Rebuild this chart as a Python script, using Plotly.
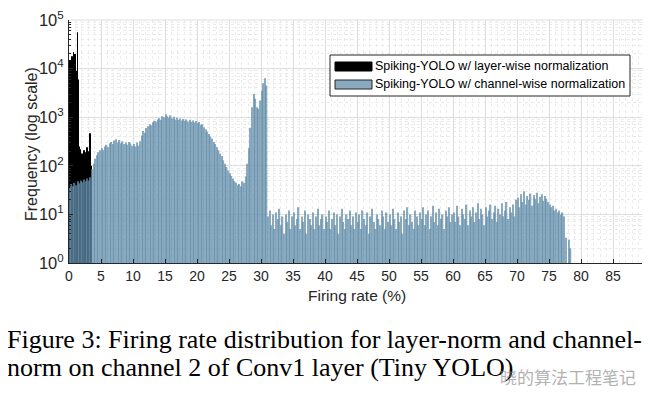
import plotly.graph_objects as go

# ---------------- data ----------------
# channel-wise normalization histogram, bin width 0.25 (% firing rate), bins start at 0
BLUE_BIN = 0.25
blue_counts = [
    # 0 - 5
    35, 42, 38, 45, 40, 48, 44, 50, 46, 52, 48, 55, 50, 58, 85, 110, 140, 165, 190, 210,
    # 5 - 10
    230, 210, 250, 270, 240, 290, 310, 280, 330, 350, 300, 340, 290, 320, 280, 300, 270, 310, 290, 260,
    # 10 - 15
    280, 250, 300, 260, 320, 420, 520, 480, 600, 650, 720, 680, 780, 850, 820, 900, 950, 880, 1050, 1000,
    # 15 - 20
    1150, 1050, 980, 1100, 950, 1020, 900, 970, 880, 940, 860, 920, 850, 900, 820, 880, 800, 860, 780, 840,
    # 20 - 25
    760, 800, 700, 720, 620, 560, 500, 450, 400, 360, 310, 280, 240, 210, 180, 160, 130, 110, 95, 80,
    # 25 - 30
    70, 62, 55, 48, 45, 40, 42, 38, 48, 45, 60, 110, 230, 600, 1600, 3000, 2400, 1600, 1500, 2200,
    # 30 - 35
    3500, 5000, 6300, 4500, 9, 12, 6, 10, 5, 11, 8, 13, 6, 9, 4, 10, 7, 12, 5, 9,
    # 35 - 40
    11, 6, 8, 14, 5, 9, 7, 12, 4, 10, 8, 6, 11, 5, 9, 13, 6, 8, 10, 5,
    # 40 - 45
    9, 7, 12, 5, 8, 11, 6, 10, 4, 9, 13, 7, 5, 10, 8, 12, 6, 9, 5, 11,
    # 45 - 50
    7, 10, 5, 12, 8, 6, 11, 4, 9, 13, 7, 5, 10, 8, 6, 12, 9, 5, 11, 7,
    # 50 - 55
    10, 6, 13, 8, 5, 11, 7, 9, 4, 12, 8, 14, 6, 10, 7, 5, 12, 9, 6, 11,
    # 55 - 60
    8, 14, 6, 10, 12, 5, 9, 15, 7, 11, 6, 13, 8, 10, 5, 12, 9, 14, 7, 10,
    # 60 - 65
    11, 7, 15, 9, 6, 13, 10, 8, 16, 6, 12, 9, 14, 7, 11, 17, 8, 13, 10, 6,
    # 65 - 70
    14, 9, 12, 16, 8, 11, 15, 7, 13, 10, 17, 9, 12, 18, 8, 14, 11, 16, 9, 20,
    # 70 - 75
    22, 14, 26, 18, 30, 16, 24, 20, 27, 15, 25, 21, 28, 17, 23, 26, 19, 24, 21, 18,
    # 75 - 78.75
    16, 14, 15, 12, 13, 11, 12, 10, 11, 9, 3.3, None, 3, 2,
]

# layer-wise normalization histogram, bin width 0.125, bins start at 0
BLACK_BIN = 0.125
black_counts = [
    8000, 15000, 12000, 18000, 14000, 22000, 17000, 20000, 7000, 9000,
    56000, 6000, 250, 160, 220, 90, 180, 130, 210, 70,
    190, 150, 240, 110, 200, 120, 470, 100,
]

series_names = [
    "Spiking-YOLO w/ layer-wise normalization",
    "Spiking-YOLO w/ channel-wise normalization",
]

x_ticks = [0, 5, 10, 15, 20, 25, 30, 35, 40, 45, 50, 55, 60, 65, 70, 75, 80, 85]
y_tickvals = [1, 10, 100, 1000, 10000, 100000]
y_ticktext = ["10<sup>0</sup>", "10<sup>1</sup>", "10<sup>2</sup>",
              "10<sup>3</sup>", "10<sup>4</sup>", "10<sup>5</sup>"]

x_title = "Firing rate (%)"
y_title = "Frequency (log scale)"
caption_lines = [
    "Figure 3: Firing rate distribution for layer-norm and channel-",
    "norm on channel 2 of Conv1 layer (Tiny YOLO)",
]
watermark = "晓的算法工程笔记"

# ---------------- layout geometry ----------------
W, H = 650, 396
L, R, T, B = 61, 13, 12, 141
PW, PH = W - L - R, H - T - B


def px(xp):
    return (xp - L) / PW


def py(yp):
    return (H - B - yp) / PH


SANS = "Liberation Sans, Arial, Helvetica, sans-serif"
SERIF = "Liberation Serif, Times New Roman, serif"
BLUE = "#638EAB"
GRID = "#dedede"
MINOR = "#ebebeb"
INK = "#262626"

blue_x = [BLUE_BIN * (i + 0.5) for i in range(len(blue_counts))]
black_x = [BLACK_BIN * (i + 0.5) for i in range(len(black_counts))]

fig = go.Figure()
fig.add_trace(go.Bar(
    x=black_x, y=black_counts, width=BLACK_BIN * 0.9,
    marker=dict(color="#000000", line=dict(width=0)),
    name=series_names[0], showlegend=False,
))
fig.add_trace(go.Bar(
    x=blue_x, y=blue_counts, width=BLUE_BIN * 0.85,
    marker=dict(color=BLUE, opacity=0.75, line=dict(width=0)),
    name=series_names[1], showlegend=False,
))

fig.update_layout(
    width=W, height=H,
    margin=dict(l=L, r=R, t=T, b=B, autoexpand=False),
    paper_bgcolor="white", plot_bgcolor="white",
    barmode="overlay",
    font=dict(family=SANS, size=14, color=INK),
    showlegend=False,
)

fig.update_xaxes(
    range=[0, 90], automargin=False,
    tickvals=x_ticks,
    ticks="inside", ticklen=4, tickcolor=INK,
    showline=True, linecolor=INK, linewidth=1, mirror=False,
    showgrid=True, gridcolor=GRID, gridwidth=1,
    minor=dict(dtick=1, showgrid=True, gridcolor=MINOR, griddash="dot", ticks=""),
    zeroline=False,
    tickfont=dict(size=14, color=INK),
)

fig.update_yaxes(
    type="log", range=[0, 5], automargin=False,
    tickvals=y_tickvals, ticktext=y_ticktext,
    ticks="inside", ticklen=4, tickcolor=INK, ticklabelstandoff=1,
    showline=True, linecolor=INK, linewidth=1, mirror=False,
    showgrid=True, gridcolor=GRID, gridwidth=1,
    minor=dict(dtick="D1", showgrid=True, gridcolor=MINOR, griddash="dot",
               ticks="inside", ticklen=2, tickcolor=INK),
    zeroline=False,
    tickfont=dict(size=16.5, color=INK),
)

# axis titles
fig.add_annotation(xref="paper", yref="paper", x=px(348.5), y=py(287),
                   xanchor="center", yanchor="middle", showarrow=False,
                   text=x_title, font=dict(family=SANS, size=15.5, color=INK))
fig.add_annotation(xref="paper", yref="paper", x=px(23), y=py(136),
                   xanchor="center", yanchor="middle", showarrow=False, textangle=-90,
                   text=y_title, font=dict(family=SANS, size=16, color=INK))

# top / right light frame (grid-like)
fig.add_shape(type="line", xref="paper", yref="paper", x0=0, x1=1, y0=1, y1=1,
              line=dict(color=GRID, width=1))
fig.add_shape(type="line", xref="paper", yref="paper", x0=1, x1=1, y0=0, y1=1,
              line=dict(color=GRID, width=1))

# custom legend box
fig.add_shape(type="rect", xref="paper", yref="paper",
              x0=px(322), x1=px(622), y0=py(88), y1=py(47),
              fillcolor="white", line=dict(color=INK, width=1), layer="above")
fig.add_shape(type="rect", xref="paper", yref="paper",
              x0=px(327), x1=px(364), y0=py(63), y1=py(54),
              fillcolor="#000000", line=dict(color="#000000", width=1), layer="above")
fig.add_shape(type="rect", xref="paper", yref="paper",
              x0=px(327), x1=px(364), y0=py(81), y1=py(72),
              fillcolor="#8AAAC0", line=dict(color=INK, width=1), layer="above")
for name, ycen in zip(series_names, [58.5, 76.5]):
    fig.add_annotation(xref="paper", yref="paper", x=px(365), y=py(ycen),
                       xanchor="left", yanchor="middle", showarrow=False,
                       text=name, font=dict(family=SANS, size=12.5, color="#000000"))

# caption
for line, ytop in zip(caption_lines, [315, 343]):
    fig.add_annotation(xref="paper", yref="paper", x=px(-3), y=py(ytop),
                       xanchor="left", yanchor="top", showarrow=False,
                       text=line, font=dict(family=SERIF, size=26, color="#000000"))

# watermark
fig.add_annotation(xref="paper", yref="paper", x=px(630), y=py(368),
                   xanchor="right", yanchor="middle", showarrow=False,
                   text=watermark, opacity=0.6,
                   font=dict(family="Noto Sans CJK SC", size=17, color="#808080"))

fig.write_html("out.html")
